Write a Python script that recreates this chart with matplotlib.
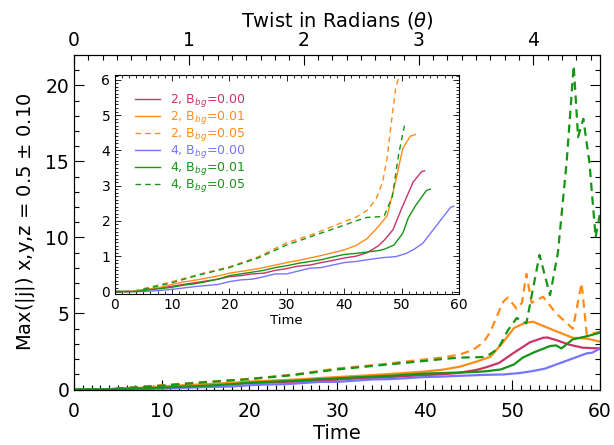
import matplotlib
matplotlib.use('Agg')
import matplotlib.pyplot as plt
from matplotlib.ticker import MultipleLocator

# each run: time points and max(|j|) values
t_2_000 = [0, 3, 5, 8, 10, 12, 14, 16, 18, 20, 22, 24, 26, 28, 30, 32, 34, 36, 38, 40,
           42, 44, 46, 47, 48.5, 50, 52, 53.5, 54, 55, 56.5, 58, 60]
v_2_000 = [0, 0, 0.05, 0.1, 0.15, 0.2, 0.25, 0.3, 0.35, 0.42, 0.45, 0.5, 0.52, 0.6, 0.65, 0.72, 0.75, 0.82, 0.88, 0.95,
           1.0, 1.1, 1.3, 1.46, 1.75, 2.35, 3.1, 3.4, 3.42, 3.25, 2.95, 2.75, 2.7]

t_2_001 = [0, 3, 5, 8, 10, 12, 14, 16, 18, 20, 22, 24, 26, 28, 30, 32, 34, 36, 38, 40,
           42, 44, 46, 47.5, 49, 50.2, 51.5, 52.4, 54.7, 56.9, 58.5, 60]
v_2_001 = [0, 0, 0.05, 0.12, 0.2, 0.27, 0.32, 0.38, 0.44, 0.52, 0.57, 0.62, 0.68, 0.75, 0.82, 0.88, 0.95, 1.02, 1.1, 1.18,
           1.3, 1.5, 1.85, 2.15, 3.15, 4.05, 4.4, 4.45, 3.9, 3.4, 3.35, 3.15]

t_2_005 = [0, 3, 5, 10, 15, 20, 25, 30, 35, 40, 42, 44, 45.5, 46.7, 47.5, 48.3, 49, 49.5,
           50.5, 51.1, 51.6, 52.2, 53.5, 55, 56.9, 57.9, 58.5, 60]
v_2_005 = [0, 0, 0.08, 0.28, 0.5, 0.7, 0.98, 1.38, 1.65, 1.98, 2.1, 2.3, 2.6, 3.1, 3.8, 4.9, 5.8, 6.05,
           5.3, 5.7, 7.6, 5.7, 6.1, 5.0, 4.0, 7.0, 3.6, 3.8]

t_4_000 = [0, 5, 8, 10, 12, 14, 16, 18, 20, 22, 24, 26, 28, 30, 32, 34, 36, 38, 40,
           42, 44, 46.7, 49, 50.8, 52.2, 53.7, 56.6, 58.5, 59.1, 60]
v_4_000 = [0, 0, 0.03, 0.06, 0.1, 0.14, 0.17, 0.2, 0.28, 0.33, 0.35, 0.42, 0.5, 0.5, 0.58, 0.66, 0.68, 0.75, 0.82,
           0.85, 0.9, 0.96, 0.99, 1.08, 1.2, 1.37, 1.98, 2.38, 2.42, 2.7]

t_4_001 = [0, 4, 6, 8, 10, 12, 14, 16, 18, 20, 22, 24, 26, 28, 30, 32, 34, 36, 38, 40,
           42, 44, 46, 47, 48.7, 50.2, 51.2, 52.5, 54.3, 55, 55.6, 56.9, 58.5, 60]
v_4_001 = [0, 0, 0.05, 0.08, 0.12, 0.18, 0.22, 0.28, 0.35, 0.45, 0.5, 0.55, 0.6, 0.68, 0.73, 0.8, 0.85, 0.9, 0.98, 1.05,
           1.08, 1.12, 1.16, 1.2, 1.32, 1.65, 2.1, 2.45, 2.86, 2.9, 2.7, 3.3, 3.5, 3.74]

t_4_005 = [0, 4, 5, 10, 15, 20, 25, 30, 35, 40, 42, 44, 46, 47, 48.4, 49.5, 50.5, 51.6,
           53.1, 54.3, 55.2, 56.2, 57.0, 57.5, 58.1, 58.8, 59.5, 60]
v_4_005 = [0, 0, 0.06, 0.25, 0.48, 0.68, 0.95, 1.32, 1.6, 1.88, 2.0, 2.1, 2.12, 2.15, 2.7, 3.9, 4.7, 4.35,
           8.85, 6.2, 9.0, 15.0, 21.3, 16.6, 17.8, 14.9, 10.0, 11.6]

runs = [(t_2_000, v_2_000), (t_2_001, v_2_001), (t_2_005, v_2_005),
        (t_4_000, v_4_000), (t_4_001, v_4_001), (t_4_005, v_4_005)]
labels = ['2, B$_{bg}$=0.00', '2, B$_{bg}$=0.01', '2, B$_{bg}$=0.05',
          '4, B$_{bg}$=0.00', '4, B$_{bg}$=0.01', '4, B$_{bg}$=0.05']
colors = ['#cc3366', '#ff8c1a', '#ff8c1a', '#7575ff', '#169416', '#169416']
styles = ['-', '-', '--', '-', '-', '--']
# last time shown in the zoomed inset for each run
inset_end = [54, 52.4, 49.5, 59.1, 55, 50.5]

time_per_rad = 13.1

plt.rcParams['font.family'] = 'DejaVu Sans'
plt.rcParams['lines.scale_dashes'] = False

fig = plt.figure(figsize=(6.14, 4.45), dpi=100)

#main axes
ax = fig.add_axes([74/614, 1 - 389.5/445, 526/614, 334.5/445])
for (t, v), c, s in zip(runs, colors, styles):
    if s == '--':
        ax.plot(t, v, color=c, lw=1.6, dashes=(6, 4))
    else:
        ax.plot(t, v, color=c, lw=1.6)

ax.set_xlim(0, 60)
ax.set_ylim(0, 22)
ax.xaxis.set_major_locator(MultipleLocator(10))
ax.xaxis.set_minor_locator(MultipleLocator(1))
ax.yaxis.set_major_locator(MultipleLocator(5))
ax.yaxis.set_minor_locator(MultipleLocator(1))
ax.tick_params(which='both', direction='in', right=True, top=False, labelsize=13.5, width=0.8)
ax.tick_params(which='major', length=7)
ax.tick_params(which='minor', length=3.5)
ax.tick_params(axis='x', pad=9)
ax.set_xlabel('Time', fontsize=14, labelpad=2)
ax.set_ylabel('Max(|j|) x,y,z = 0.5 $\\pm$ 0.10', fontsize=14, labelpad=6)

#twist on the top axis
top = ax.twiny()
top.set_xlim(0, 60 / time_per_rad)
top.xaxis.set_major_locator(MultipleLocator(1))
top.xaxis.set_minor_locator(MultipleLocator(0.125))
top.tick_params(which='both', direction='in', labelsize=13.5, width=0.8)
top.tick_params(which='major', length=7)
top.tick_params(which='minor', length=3.5)
top.set_xlabel('Twist in Radians ($\\theta$)', fontsize=14, labelpad=3)

#inset
ins = fig.add_axes([114.5/614, 1 - 294/445, 344.5/614, 219.5/445])
for (t, v), c, s, lab, end in zip(runs, colors, styles, labels, inset_end):
    tt = [x for x in t if x <= end]
    vv = v[:len(tt)]
    if s == '--':
        ins.plot(tt, vv, color=c, lw=1.0, dashes=(4, 3), label=lab)
    else:
        ins.plot(tt, vv, color=c, lw=1.0, label=lab)

ins.set_xlim(0, 60)
ins.set_ylim(-0.07, 6.15)
ins.xaxis.set_major_locator(MultipleLocator(10))
ins.xaxis.set_minor_locator(MultipleLocator(1.25))
ins.yaxis.set_major_locator(MultipleLocator(1))
ins.yaxis.set_minor_locator(MultipleLocator(0.1))
ins.tick_params(which='both', direction='in', top=True, right=True, labelsize=10, width=0.6, pad=3)
ins.tick_params(which='major', length=4.5)
ins.tick_params(which='minor', length=2.2)
ins.set_xlabel('Time', fontsize=9.5, labelpad=1)

leg = ins.legend(loc='upper left', bbox_to_anchor=(0.06, 0.92), frameon=False, fontsize=9,
                 handlelength=2.0, handletextpad=0.8, labelspacing=0.0, borderpad=0,
                 borderaxespad=0, labelcolor='linecolor')

fig.savefig('out.png', dpi=100)
